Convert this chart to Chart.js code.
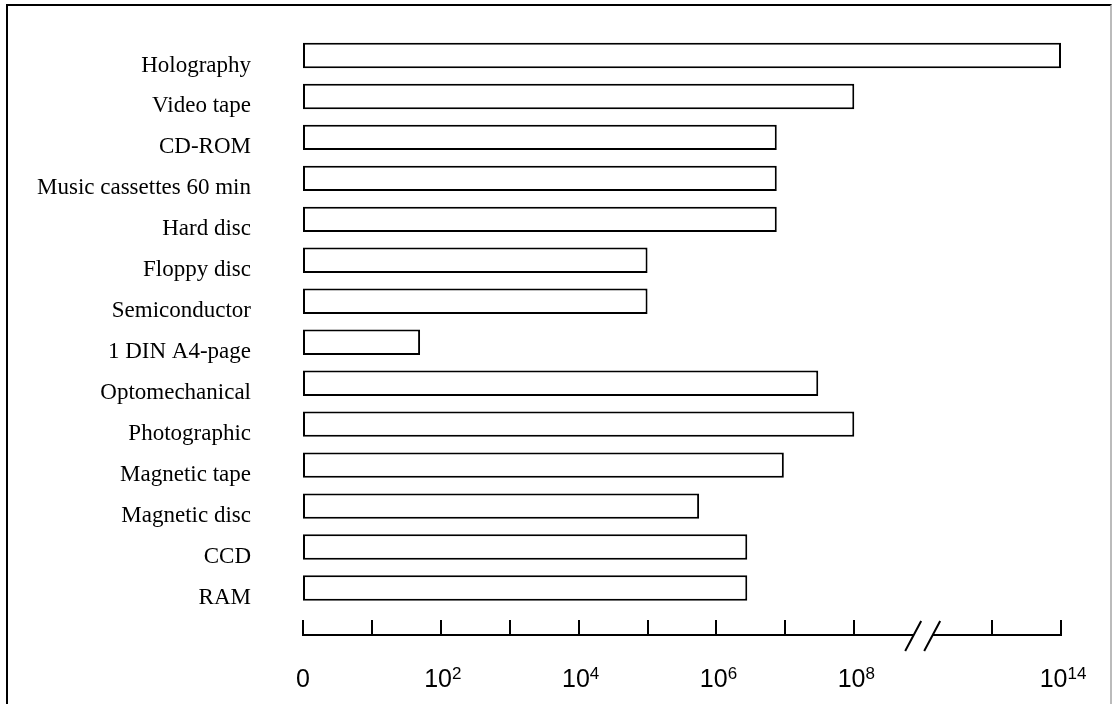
<!DOCTYPE html>
<html lang="en">
<head>
    <meta charset="UTF-8">
    <title>Storage capacity</title>
    <script src="https://cdn.jsdelivr.net/npm/chart.js"></script>
    <style>
        html, body {
            margin: 0;
            padding: 0;
            background: #fff;
            overflow: hidden;
        }
        #frame {
            position: absolute;
            left: 6px;
            top: 4px;
            width: 1106px;
            height: 800px;
            box-sizing: border-box;
            border-left: 2px solid #000;
            border-top: 2px solid #000;
            border-right: 2px solid #bbb;
        }
        #chartContainer {
            position: absolute;
            left: 0;
            top: 0;
            width: 1115px;
            height: 704px;
        }
    </style>
</head>
<body>
    <div id="frame"></div>
    <div id="chartContainer">
        <canvas id="storageChart"></canvas>
    </div>

    <script>
        const media = [
            'Holography', 'Video tape', 'CD-ROM', 'Music cassettes 60 min', 'Hard disc',
            'Floppy disc', 'Semiconductor', '1 DIN A4-page', 'Optomechanical', 'Photographic',
            'Magnetic tape', 'Magnetic disc', 'CCD', 'RAM'
        ];
        const capacities = [1e14, 1e8, 7.5e6, 7.5e6, 7.5e6, 1e5, 1e5, 50, 3e7, 1e8, 9.5e6, 5.6e5, 2.8e6, 2.8e6];

        // axis: decades 10^0..10^8, a break, then 10^13 and 10^14
        const tickDecades = [0, 1, 2, 3, 4, 5, 6, 7, 8, 13, 14];
        const labelDecades = [0, 2, 4, 6, 8, 14];
        const breakPos = 9;

        function axisPos(exp) {
            return exp <= 8 ? exp : exp - 3;
        }

        const xAxisPlugin = {
            id: 'xAxisPlugin',
            afterDraw(chart) {
                const ctx = chart.ctx;
                const x = chart.scales.x;
                const lineY = 635;
                const bx = x.getPixelForValue(breakPos);
                ctx.save();
                ctx.strokeStyle = '#000';
                ctx.lineWidth = 2;
                ctx.beginPath();
                ctx.moveTo(x.getPixelForValue(0), lineY);
                ctx.lineTo(bx - 9, lineY);
                ctx.moveTo(bx + 9, lineY);
                ctx.lineTo(x.getPixelForValue(axisPos(14)), lineY);
                tickDecades.forEach(d => {
                    const px = Math.round(x.getPixelForValue(axisPos(d)));
                    ctx.moveTo(px, 620);
                    ctx.lineTo(px, 636);
                });
                // break marks
                [-10, 9].forEach(off => {
                    ctx.moveTo(bx + off - 8, lineY + 16);
                    ctx.lineTo(bx + off + 8, lineY - 14);
                });
                ctx.stroke();

                ctx.fillStyle = '#000';
                ctx.textBaseline = 'alphabetic';
                labelDecades.forEach(d => {
                    const px = x.getPixelForValue(axisPos(d));
                    if (d === 0) {
                        ctx.font = '25px "Liberation Sans"';
                        ctx.textAlign = 'center';
                        ctx.fillText('0', px, 687);
                        return;
                    }
                    ctx.textAlign = 'left';
                    ctx.font = '25px "Liberation Sans"';
                    const wBase = ctx.measureText('10').width;
                    ctx.font = '17px "Liberation Sans"';
                    const wExp = ctx.measureText(String(d)).width;
                    const start = px - (wBase + wExp) / 2 + 2;
                    ctx.font = '25px "Liberation Sans"';
                    ctx.fillText('10', start, 687);
                    ctx.font = '17px "Liberation Sans"';
                    ctx.fillText(String(d), start + wBase, 679);
                });
                ctx.restore();
            }
        };

        Chart.defaults.color = '#000';
        Chart.defaults.animation = false;

        const ctx = document.getElementById('storageChart').getContext('2d');
        const chart = new Chart(ctx, {
            type: 'bar',
            data: {
                labels: media,
                datasets: [{
                    data: capacities.map(v => axisPos(Math.log10(v))),
                    backgroundColor: '#fff',
                    borderColor: '#000',
                    borderWidth: 2,
                    borderSkipped: false,
                    barPercentage: 0.62,
                    categoryPercentage: 1
                }]
            },
            options: {
                indexAxis: 'y',
                responsive: true,
                maintainAspectRatio: false,
                devicePixelRatio: 1,
                layout: {
                    padding: { left: 0, right: 54, top: 35, bottom: 95.5 }
                },
                plugins: {
                    legend: { display: false },
                    tooltip: { enabled: false }
                },
                scales: {
                    x: {
                        type: 'linear',
                        display: false,
                        min: 0,
                        max: 11
                    },
                    y: {
                        grid: { display: false, drawTicks: false },
                        border: { display: false },
                        afterFit: scale => {
                            scale.width = 303;
                            scale.paddingTop = 0;
                            scale.paddingBottom = 0;
                        },
                        ticks: {
                            padding: 52,
                            labelOffset: 10,
                            font: { family: '"Liberation Serif"', size: 23 }
                        }
                    }
                }
            },
            plugins: [xAxisPlugin]
        });
    </script>
</body>
</html>
